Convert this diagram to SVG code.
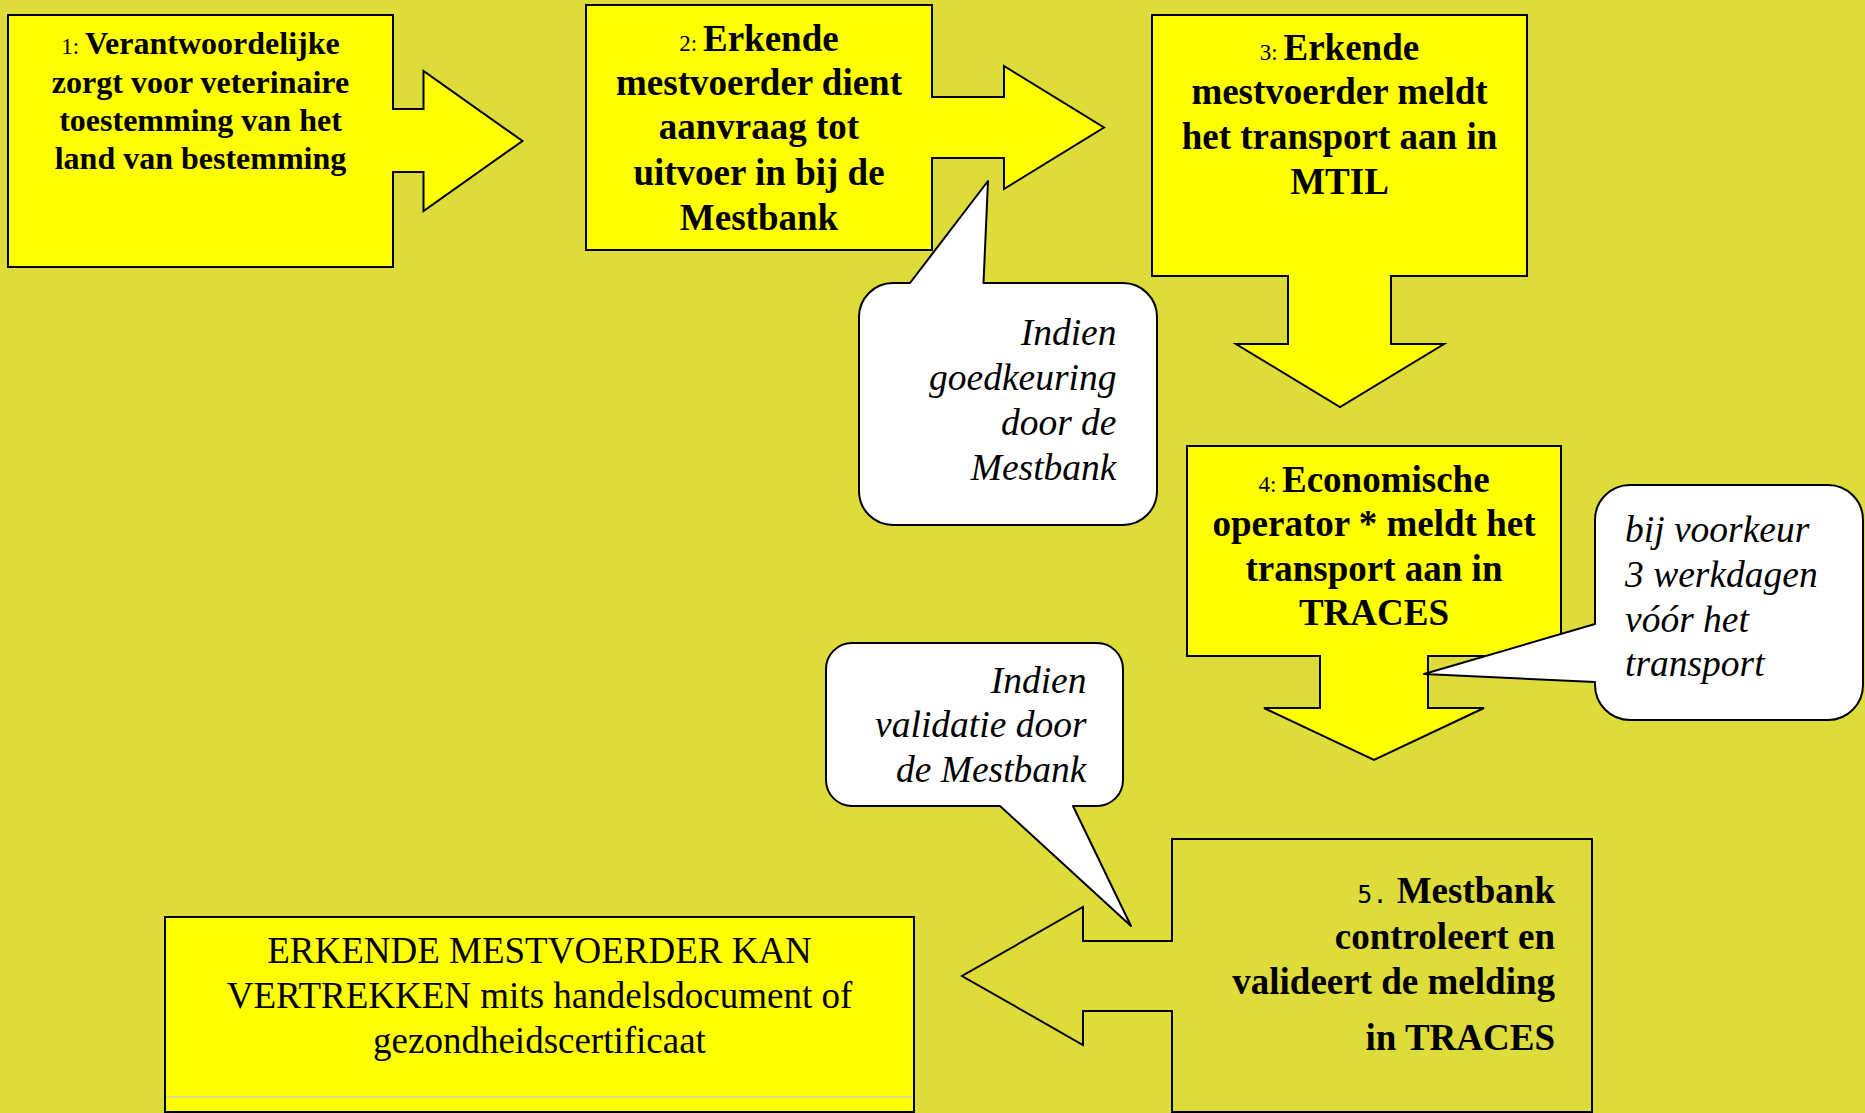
<svg xmlns="http://www.w3.org/2000/svg" width="1865" height="1113" viewBox="0 0 1865 1113">
<style>
.bg{fill:#dedc3a}
.box{fill:#ffff00;stroke:#000;stroke-width:2;stroke-linejoin:miter}
.box5{fill:#dedc3a;stroke:#000;stroke-width:2}
.bub{fill:#fff;stroke:#000;stroke-width:2;stroke-linejoin:round}
.t{font-family:"Liberation Serif","Times New Roman",serif;fill:#000}
.b{font-weight:bold;font-size:37px}
.n{font-weight:normal;font-size:23px}
.it{font-style:italic;font-size:37.5px}
.reg{font-size:37px}
.mid{text-anchor:middle}
.end{text-anchor:end}
</style>
<rect class="bg" x="0" y="0" width="1865" height="1113"/>
<g id="connectors"/>
<g id="node1">
<path class="box" d="M8,15 L393,15 L393,109 L423.5,109 L423.5,71 L522.5,141 L423.5,211 L423.5,172 L393,172 L393,267 L8,267 Z"/>
<text class="t mid" style="font-weight:bold;font-size:32px" x="200.5"><tspan x="200.5" y="54"><tspan class="n">1: </tspan>Verantwoordelijke</tspan><tspan x="200.5" y="92.5">zorgt voor veterinaire</tspan><tspan x="200.5" y="131">toestemming van het</tspan><tspan x="200.5" y="169">land van bestemming</tspan></text>
</g>
<g id="node2">
<path class="box" d="M586,5 L932,5 L932,97 L1004,97 L1004,66 L1104,127.5 L1004,189 L1004,158 L932,158 L932,250 L586,250 Z"/>
<text class="t b mid"><tspan x="759" y="50.5"><tspan class="n">2: </tspan>Erkende</tspan><tspan x="759" y="94.5">mestvoerder dient</tspan><tspan x="759" y="139">aanvraag tot</tspan><tspan x="759" y="185">uitvoer in bij de</tspan><tspan x="759" y="229.5">Mestbank</tspan></text>
</g>
<g id="node3">
<path class="box" d="M1152,15 L1527,15 L1527,276 L1391,276 L1391,344 L1444,344 L1340,407 L1236,344 L1288,344 L1288,276 L1152,276 Z"/>
<text class="t b mid"><tspan x="1339.5" y="60"><tspan class="n">3: </tspan>Erkende</tspan><tspan x="1339.5" y="104">mestvoerder meldt</tspan><tspan x="1339.5" y="148.5">het transport aan in</tspan><tspan x="1339.5" y="193.5">MTIL</tspan></text>
</g>
<g id="node4">
<path class="box" d="M1187,446 L1561,446 L1561,656 L1428,656 L1428,708 L1484,708 L1374,760 L1264,708 L1320,708 L1320,656 L1187,656 Z"/>
<text class="t b mid"><tspan x="1374" y="491.5"><tspan class="n">4: </tspan>Economische</tspan><tspan x="1374" y="536">operator * meldt het</tspan><tspan x="1374" y="580.5">transport aan in</tspan><tspan x="1374" y="625">TRACES</tspan></text>
</g>
<g id="node5">
<path class="box5" d="M1172,839 L1592,839 L1592,1112 L1172,1112 L1172,1011 L1083,1011 L1083,1045 L962,976 L1083,907 L1083,941 L1172,941 Z"/>
<text class="t b end"><tspan x="1555" y="903"><tspan style="font-family:'DejaVu Sans Mono',monospace;font-weight:normal;font-size:25px">5.</tspan> Mestbank</tspan><tspan x="1555" y="949">controleert en</tspan><tspan x="1555" y="994">valideert de melding</tspan><tspan x="1555" y="1050">in TRACES</tspan></text>
</g>
<g id="node6">
<rect class="box" x="165" y="917" width="749" height="195"/>
<line x1="166" y1="1097" x2="913" y2="1097" stroke="#d4d4b0" stroke-width="1.5"/>
<text class="t reg mid"><tspan x="539.5" y="962.5">ERKENDE MESTVOERDER KAN</tspan><tspan x="539.5" y="1008">VERTREKKEN mits handelsdocument of</tspan><tspan x="539.5" y="1052.5">gezondheidscertificaat</tspan></text>
</g>
<g id="callout1">
<path class="bub" d="M893,283 L910,283 L988,181 L983.5,283 L1123,283 A34,34 0 0 1 1157,317 L1157,491 A34,34 0 0 1 1123,525 L893,525 A34,34 0 0 1 859,491 L859,317 A34,34 0 0 1 893,283 Z"/>
<text class="t it end"><tspan x="1116.5" y="345">Indien</tspan><tspan x="1116.5" y="390">goedkeuring</tspan><tspan x="1116.5" y="435">door de</tspan><tspan x="1116.5" y="480">Mestbank</tspan></text>
</g>
<g id="callout2">
<path class="bub" d="M1630,485 L1828,485 A35,35 0 0 1 1863,520 L1863,685 A35,35 0 0 1 1828,720 L1630,720 A35,35 0 0 1 1595,685 L1595,682 L1424,674 L1595,624 L1595,520 A35,35 0 0 1 1630,485 Z"/>
<text class="t it"><tspan x="1625" y="542">bij voorkeur</tspan><tspan x="1625" y="587">3 werkdagen</tspan><tspan x="1625" y="631.5">vóór het</tspan><tspan x="1625" y="676">transport</tspan></text>
</g>
<g id="callout3">
<path class="bub" d="M852,643 L1097,643 A26,26 0 0 1 1123,669 L1123,780 A26,26 0 0 1 1097,806 L1073,806 L1131,926 L1000,806 L852,806 A26,26 0 0 1 826,780 L826,669 A26,26 0 0 1 852,643 Z"/>
<text class="t it end"><tspan x="1086.5" y="692.5">Indien</tspan><tspan x="1086.5" y="737">validatie door</tspan><tspan x="1086.5" y="781.5">de Mestbank</tspan></text>
</g>
</svg>
